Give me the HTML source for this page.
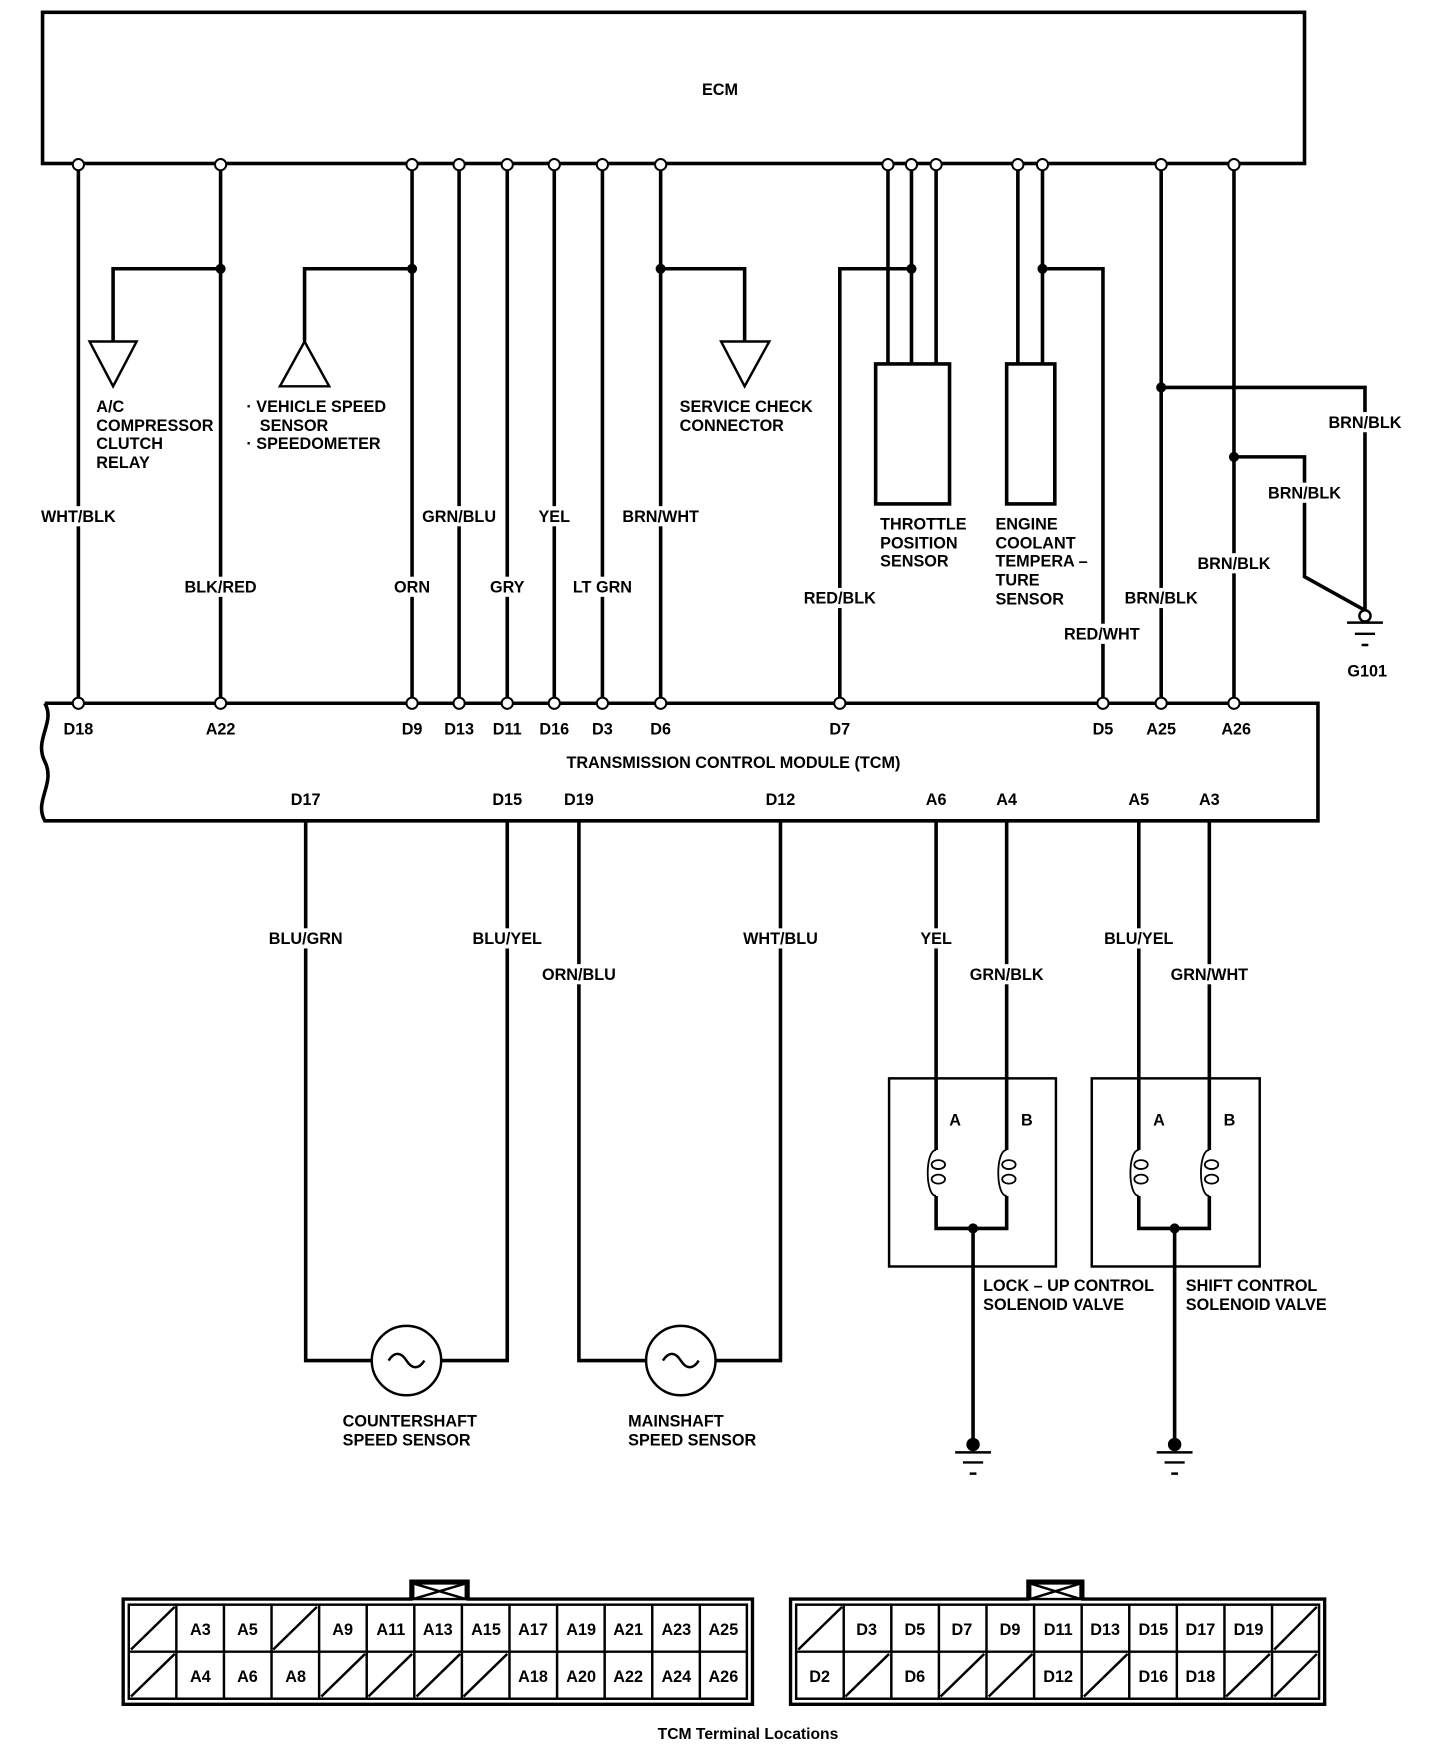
<!DOCTYPE html>
<html><head><meta charset="utf-8"><style>
html,body{margin:0;padding:0;background:#fff}
svg{display:block}
text{font-family:"Liberation Sans",sans-serif;font-weight:bold;font-size:14.5px;fill:#000}
.w{stroke:#000;stroke-width:3.2;fill:none}
.t{stroke:#000;stroke-width:2.2;fill:none}
.lb{fill:#fff}
</style></head><body>
<svg width="1440" height="1748" viewBox="0 0 1286 1561" preserveAspectRatio="none" xmlns="http://www.w3.org/2000/svg">
<!-- ECM -->
<rect x="38" y="11" width="1127" height="135" class="w"/>
<text x="643" y="85" text-anchor="middle">ECM</text>

<!-- TCM -->
<path class="w" d="M40,628 L1177,628 L1177,733 L40,733 C30,715 50,700 40,680 C30,660 50,645 40,628"/>
<text x="655" y="686" text-anchor="middle">TRANSMISSION CONTROL MODULE (TCM)</text>

<!-- top wires -->
<g class="w">
<path d="M70,147V628"/>
<path d="M197,147V628"/>
<path d="M197,240H101V305"/>
<path d="M368,147V628"/>
<path d="M368,240H272V305"/>
<path d="M410,147V628"/>
<path d="M453,147V628"/>
<path d="M495,147V628"/>
<path d="M538,147V628"/>
<path d="M590,147V628"/>
<path d="M590,240H665V305"/>
<path d="M793,147V325M814,147V325M836,147V325"/>
<path d="M814,240H750V628"/>
<path d="M909,147V325M931,147V325"/>
<path d="M931,240H985V628"/>
<path d="M1037,147V628"/>
<path d="M1102,147V628"/>
<path d="M1037,346H1219V548"/>
<path d="M1102,408H1165V515L1219,545"/>
<rect x="782" y="325" width="66" height="125"/>
<rect x="899" y="325" width="43" height="125"/>
</g>
<g class="t">
<path d="M80,305H122L101,345Z"/>
<path d="M272,305L294,345H250Z"/>
<path d="M644,305H687L665,345Z"/>
</g>
<g fill="#000">
<circle cx="197" cy="240" r="4.5"/><circle cx="368" cy="240" r="4.5"/><circle cx="590" cy="240" r="4.5"/>
<circle cx="814" cy="240" r="4.5"/><circle cx="931" cy="240" r="4.5"/>
<circle cx="1037" cy="346" r="4.5"/><circle cx="1102" cy="408" r="4.5"/>
</g>
<!-- G101 -->
<g class="t"><circle cx="1219" cy="550" r="5" fill="#fff"/><path d="M1203,556H1235M1210,566H1228M1216,576H1222"/></g>
<text x="1221" y="604" text-anchor="middle">G101</text>

<!-- ECM pins -->
<g fill="#fff" stroke="#000" stroke-width="1.8">
<circle cx="70" cy="147" r="5"/><circle cx="197" cy="147" r="5"/><circle cx="368" cy="147" r="5"/><circle cx="410" cy="147" r="5"/><circle cx="453" cy="147" r="5"/><circle cx="495" cy="147" r="5"/><circle cx="538" cy="147" r="5"/><circle cx="590" cy="147" r="5"/><circle cx="793" cy="147" r="5"/><circle cx="814" cy="147" r="5"/><circle cx="836" cy="147" r="5"/><circle cx="909" cy="147" r="5"/><circle cx="931" cy="147" r="5"/><circle cx="1037" cy="147" r="5"/><circle cx="1102" cy="147" r="5"/>
</g>

<!-- component labels -->
<text x="86" y="368">A/C</text><text x="86" y="385">COMPRESSOR</text><text x="86" y="401">CLUTCH</text><text x="86" y="418">RELAY</text>
<text x="220" y="368">· VEHICLE SPEED</text><text x="232" y="385">SENSOR</text><text x="220" y="401">· SPEEDOMETER</text>
<text x="607" y="368">SERVICE CHECK</text><text x="607" y="385">CONNECTOR</text>
<text x="786" y="473">THROTTLE</text><text x="786" y="490">POSITION</text><text x="786" y="506">SENSOR</text>
<text x="889" y="473">ENGINE</text><text x="889" y="490">COOLANT</text><text x="889" y="506">TEMPERA –</text><text x="889" y="523">TURE</text><text x="889" y="540">SENSOR</text>

<!-- wire labels top -->
<g>
<rect class="lb" x="35" y="452" width="70" height="18"/><text x="70" y="466" text-anchor="middle">WHT/BLK</text>
<rect class="lb" x="166" y="515" width="62" height="18"/><text x="197" y="529" text-anchor="middle">BLK/RED</text>
<rect class="lb" x="351" y="515" width="34" height="18"/><text x="368" y="529" text-anchor="middle">ORN</text>
<rect class="lb" x="378" y="452" width="64" height="18"/><text x="410" y="466" text-anchor="middle">GRN/BLU</text>
<rect class="lb" x="437" y="515" width="32" height="18"/><text x="453" y="529" text-anchor="middle">GRY</text>
<rect class="lb" x="480" y="452" width="30" height="18"/><text x="495" y="466" text-anchor="middle">YEL</text>
<rect class="lb" x="510" y="515" width="56" height="18"/><text x="538" y="529" text-anchor="middle">LT GRN</text>
<rect class="lb" x="555" y="452" width="70" height="18"/><text x="590" y="466" text-anchor="middle">BRN/WHT</text>
<rect class="lb" x="719" y="525" width="62" height="18"/><text x="750" y="539" text-anchor="middle">RED/BLK</text>
<rect class="lb" x="949" y="557" width="70" height="18"/><text x="984" y="571" text-anchor="middle">RED/WHT</text>
<rect class="lb" x="1005" y="525" width="64" height="18"/><text x="1037" y="539" text-anchor="middle">BRN/BLK</text>
<rect class="lb" x="1070" y="494" width="64" height="18"/><text x="1102" y="508" text-anchor="middle">BRN/BLK</text>
<rect class="lb" x="1133" y="431" width="64" height="18"/><text x="1165" y="445" text-anchor="middle">BRN/BLK</text>
<rect class="lb" x="1187" y="368" width="64" height="18"/><text x="1219" y="382" text-anchor="middle">BRN/BLK</text>
</g>

<!-- TCM top pins -->
<g fill="#fff" stroke="#000" stroke-width="1.8">
<circle cx="70" cy="628" r="5"/><circle cx="197" cy="628" r="5"/><circle cx="368" cy="628" r="5"/><circle cx="410" cy="628" r="5"/><circle cx="453" cy="628" r="5"/><circle cx="495" cy="628" r="5"/><circle cx="538" cy="628" r="5"/><circle cx="590" cy="628" r="5"/><circle cx="750" cy="628" r="5"/><circle cx="985" cy="628" r="5"/><circle cx="1037" cy="628" r="5"/><circle cx="1102" cy="628" r="5"/>
</g>
<g text-anchor="middle">
<text x="70" y="656">D18</text><text x="197" y="656">A22</text><text x="368" y="656">D9</text><text x="410" y="656">D13</text><text x="453" y="656">D11</text><text x="495" y="656">D16</text><text x="538" y="656">D3</text><text x="590" y="656">D6</text><text x="750" y="656">D7</text><text x="985" y="656">D5</text><text x="1037" y="656">A25</text><text x="1104" y="656">A26</text>
<text x="273" y="719">D17</text><text x="453" y="719">D15</text><text x="517" y="719">D19</text><text x="697" y="719">D12</text><text x="836" y="719">A6</text><text x="899" y="719">A4</text><text x="1017" y="719">A5</text><text x="1080" y="719">A3</text>
</g>

<!-- bottom wires -->
<g class="w">
<path d="M273,733V1215H332M394,1215H453V733"/>
<path d="M517,733V1215H577M639,1215H697V733"/>
<path d="M836,733V1027M836,1068V1097H899V1068M899,1027V733"/>
<path d="M869,1097V1290"/>
<path d="M1017,733V1027M1017,1068V1097H1080V1068M1080,1027V733"/>
<path d="M1049,1097V1290"/>
</g>
<g class="t">
<circle cx="363" cy="1215" r="31"/><path d="M347,1215C352,1207 358,1207 363,1215S374,1223 379,1215"/>
<circle cx="608" cy="1215" r="31"/><path d="M592,1215C597,1207 603,1207 608,1215S619,1223 624,1215"/>
<rect x="794" y="963" width="149" height="168"/>
<rect x="975" y="963" width="150" height="168"/>
</g>
<!-- coils -->
<g stroke="#000" stroke-width="1.6" fill="none">
<path d="M836,1027C826,1027 826,1068 836,1068"/><ellipse cx="838" cy="1040" rx="6" ry="4"/><ellipse cx="838" cy="1053" rx="6" ry="4"/>
<path d="M899,1027C889,1027 889,1068 899,1068"/><ellipse cx="901" cy="1040" rx="6" ry="4"/><ellipse cx="901" cy="1053" rx="6" ry="4"/>
<path d="M1017,1027C1007,1027 1007,1068 1017,1068"/><ellipse cx="1019" cy="1040" rx="6" ry="4"/><ellipse cx="1019" cy="1053" rx="6" ry="4"/>
<path d="M1080,1027C1070,1027 1070,1068 1080,1068"/><ellipse cx="1082" cy="1040" rx="6" ry="4"/><ellipse cx="1082" cy="1053" rx="6" ry="4"/>
</g>
<g fill="#000"><circle cx="869" cy="1097" r="4.5"/><circle cx="1049" cy="1097" r="4.5"/><circle cx="869" cy="1290" r="6"/><circle cx="1049" cy="1290" r="6"/></g>
<g class="t"><path d="M853,1297H885M860,1306H878M866,1316H872"/><path d="M1033,1297H1065M1040,1306H1058M1046,1316H1052"/></g>
<text x="853" y="1005" text-anchor="middle">A</text><text x="917" y="1005" text-anchor="middle">B</text>
<text x="1035" y="1005" text-anchor="middle">A</text><text x="1098" y="1005" text-anchor="middle">B</text>
<text x="878" y="1153">LOCK – UP CONTROL</text><text x="878" y="1170">SOLENOID VALVE</text>
<text x="1059" y="1153">SHIFT CONTROL</text><text x="1059" y="1170">SOLENOID VALVE</text>
<text x="306" y="1274">COUNTERSHAFT</text><text x="306" y="1291">SPEED SENSOR</text>
<text x="561" y="1274">MAINSHAFT</text><text x="561" y="1291">SPEED SENSOR</text>

<!-- bottom wire labels -->
<g>
<rect class="lb" x="238" y="829" width="70" height="18"/><text x="273" y="843" text-anchor="middle">BLU/GRN</text>
<rect class="lb" x="420" y="829" width="66" height="18"/><text x="453" y="843" text-anchor="middle">BLU/YEL</text>
<rect class="lb" x="482" y="861" width="70" height="18"/><text x="517" y="875" text-anchor="middle">ORN/BLU</text>
<rect class="lb" x="662" y="829" width="70" height="18"/><text x="697" y="843" text-anchor="middle">WHT/BLU</text>
<rect class="lb" x="820" y="829" width="32" height="18"/><text x="836" y="843" text-anchor="middle">YEL</text>
<rect class="lb" x="866" y="861" width="66" height="18"/><text x="899" y="875" text-anchor="middle">GRN/BLK</text>
<rect class="lb" x="984" y="829" width="66" height="18"/><text x="1017" y="843" text-anchor="middle">BLU/YEL</text>
<rect class="lb" x="1044" y="861" width="72" height="18"/><text x="1080" y="875" text-anchor="middle">GRN/WHT</text>
</g>

<!-- Connector A -->
<g class="t">
<path d="M110,1428H367V1412H418V1428H672V1522H110Z" stroke-width="3"/>
<rect x="115" y="1433" width="552" height="84"/>
<rect x="369" y="1414" width="47" height="14"/><path d="M369,1414L416,1428M416,1414L369,1428"/>
<path d="M115,1475H667"/>
<path d="M157.5,1433V1517M200,1433V1517M242.5,1433V1517M285,1433V1517M327.5,1433V1517M370,1433V1517M412.5,1433V1517M455,1433V1517M497.5,1433V1517M540,1433V1517M582.5,1433V1517M625,1433V1517"/>
<path d="M117,1473L156,1435M244,1473L283,1435M117,1515L156,1477M287,1515L326,1477M329,1515L368,1477M372,1515L411,1477M414,1515L453,1477"/>
</g>
<g text-anchor="middle">
<text x="179" y="1460">A3</text><text x="221" y="1460">A5</text><text x="306" y="1460">A9</text><text x="349" y="1460">A11</text><text x="391" y="1460">A13</text><text x="434" y="1460">A15</text><text x="476" y="1460">A17</text><text x="519" y="1460">A19</text><text x="561" y="1460">A21</text><text x="604" y="1460">A23</text><text x="646" y="1460">A25</text>
<text x="179" y="1502">A4</text><text x="221" y="1502">A6</text><text x="264" y="1502">A8</text><text x="476" y="1502">A18</text><text x="519" y="1502">A20</text><text x="561" y="1502">A22</text><text x="604" y="1502">A24</text><text x="646" y="1502">A26</text>
</g>

<!-- Connector D -->
<g class="t">
<path d="M706,1428H918V1412H967V1428H1183V1522H706Z" stroke-width="3"/>
<rect x="711" y="1433" width="467" height="84"/>
<rect x="920" y="1414" width="45" height="14"/><path d="M920,1414L965,1428M965,1414L920,1428"/>
<path d="M711,1475H1178"/>
<path d="M753.5,1433V1517M796,1433V1517M838.5,1433V1517M881,1433V1517M923.5,1433V1517M966,1433V1517M1008.5,1433V1517M1051,1433V1517M1093.5,1433V1517M1136,1433V1517"/>
<path d="M713,1473L752,1435M1138,1473L1176,1435M755,1515L794,1477M840,1515L879,1477M883,1515L922,1477M968,1515L1007,1477M1095,1515L1134,1477M1138,1515L1176,1477"/>
</g>
<g text-anchor="middle">
<text x="774" y="1460">D3</text><text x="817" y="1460">D5</text><text x="859" y="1460">D7</text><text x="902" y="1460">D9</text><text x="945" y="1460">D11</text><text x="987" y="1460">D13</text><text x="1030" y="1460">D15</text><text x="1072" y="1460">D17</text><text x="1115" y="1460">D19</text>
<text x="732" y="1502">D2</text><text x="817" y="1502">D6</text><text x="945" y="1502">D12</text><text x="1030" y="1502">D16</text><text x="1072" y="1502">D18</text>
</g>
<text x="668" y="1553" text-anchor="middle" style="font-size:14px">TCM Terminal Locations</text>
</svg>
</body></html>
